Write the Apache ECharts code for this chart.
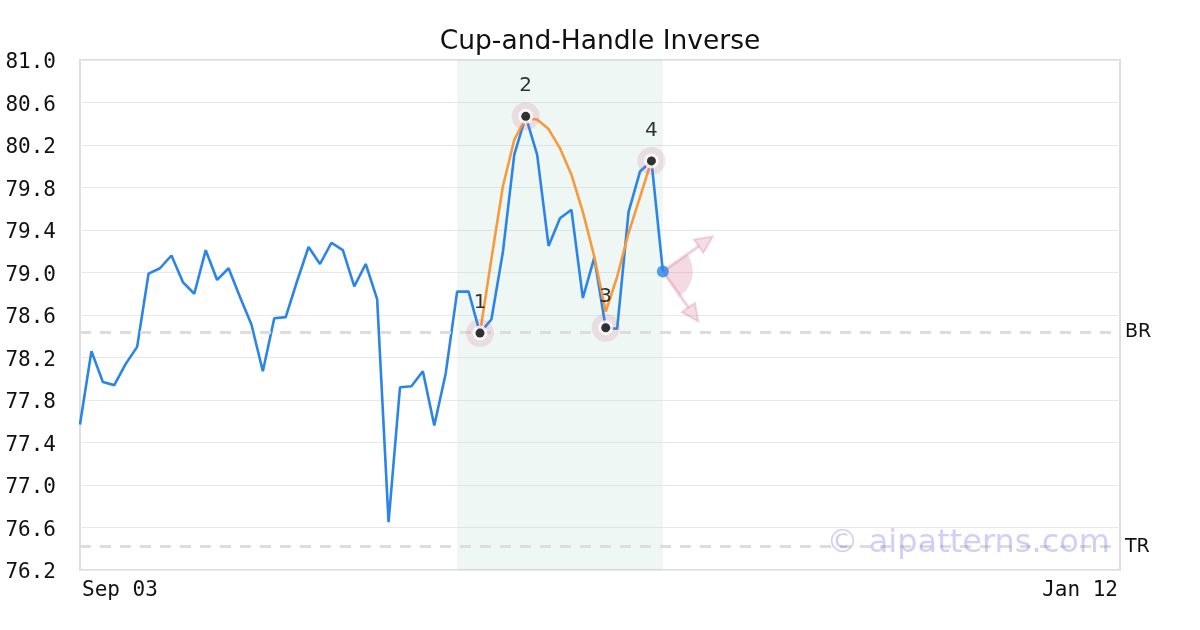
<!DOCTYPE html>
<html>
<head>
<meta charset="utf-8">
<script src="https://cdn.jsdelivr.net/npm/echarts@6/dist/echarts.min.js"></script>
<style>html,body{margin:0;padding:0;background:#fff}#chart{width:1200px;height:630px}</style>
</head>
<body>
<div id="chart"></div>
<script>
// ---- data ----
const dates = ['Sep 03','Sep 07','Sep 08','Sep 09','Sep 10','Sep 13','Sep 14','Sep 15','Sep 16','Sep 17',
  'Sep 20','Sep 21','Sep 22','Sep 23','Sep 24','Sep 27','Sep 28','Sep 29','Sep 30','Oct 01',
  'Oct 04','Oct 05','Oct 06','Oct 07','Oct 08','Oct 11','Oct 12','Oct 13','Oct 14','Oct 15',
  'Oct 18','Oct 19','Oct 20','Oct 21','Oct 22','Oct 25','Oct 26','Oct 27','Oct 28','Oct 29',
  'Nov 01','Nov 02','Nov 03','Nov 04','Nov 05','Nov 08','Nov 09','Nov 10','Nov 11','Nov 12',
  'Nov 15','Nov 16','Nov 17','Nov 18','Nov 19','Nov 22','Nov 23','Nov 24','Nov 26','Nov 29',
  'Nov 30','Dec 01','Dec 02','Dec 03','Dec 06','Dec 07','Dec 08','Dec 09','Dec 10','Dec 13',
  'Dec 14','Dec 15','Dec 16','Dec 17','Dec 20','Dec 21','Dec 22','Dec 23','Dec 24','Dec 27',
  'Dec 28','Dec 29','Dec 30','Dec 31','Jan 03','Jan 04','Jan 05','Jan 06','Jan 07','Jan 10',
  'Jan 11','Jan 12'];

const priceValues = [77.57,78.26,77.97,77.94,78.14,78.30,78.99,79.04,79.16,78.91,
  78.80,79.21,78.93,79.04,78.77,78.51,78.07,78.57,78.58,78.92,
  79.24,79.08,79.28,79.21,78.87,79.08,78.75,76.65,77.92,77.93,
  78.07,77.56,78.05,78.82,78.82,78.43,78.56,79.19,80.11,80.47,
  80.11,79.25,79.51,79.59,78.76,79.14,78.48,78.47,79.57,79.95,
  80.05,79.01];

const cupStart = 35;
const cupValues = [78.43,79.13,79.81,80.25,80.45,80.44,80.35,80.17,79.92,79.57,
  79.15,78.63,78.96,79.37,79.71,80.05];

const patternIdx = [35,39,46,50];
const patternVal = [78.43,80.47,78.48,80.05];
const patternLabels = ['1','2','3','4'];

const zoneRange = [33,51];
const levelValues = [78.44,76.42];
const levelNames = ['BR','TR'];

const wedgeOrigin = [51,79.01];
const arrowUp = [55.36,79.34];
const arrowDown = [54.1,78.54];

const yTicks = {min:76.2,max:81.0,step:0.4};
const titleText = 'Cup-and-Handle Inverse';
const watermark = '\u00a9 aipatterns.com';

// ---- chart ----
const chart = echarts.init(document.getElementById('chart'), null, {renderer:'canvas'});
const mono = 'DejaVu Sans Mono';
const sans = 'DejaVu Sans';
const pink = 'rgba(215,120,150,';

const option = {
  animation:false,
  title:{text:titleText,left:'center',top:24,
    textStyle:{fontFamily:sans,fontSize:26.5,fontWeight:'normal',color:'#111'}},
  grid:{left:80,right:80,top:60,bottom:60,show:true,borderColor:'#dedede',borderWidth:2,backgroundColor:'transparent'},
  xAxis:{type:'value',min:0,max:dates.length-1,interval:dates.length-1,
    axisLine:{show:false},axisTick:{show:false},splitLine:{show:false},
    axisLabel:{fontFamily:mono,fontSize:21,color:'#111',margin:8,
      alignMinLabel:'left',alignMaxLabel:'right',padding:[2,2,0,2],
      formatter:v=>dates[Math.round(v)]||''}},
  yAxis:{type:'value',min:yTicks.min,max:yTicks.max,interval:yTicks.step,
    axisLine:{show:false},axisTick:{show:false},
    splitLine:{lineStyle:{color:'#e8e8e8',width:1}},
    axisLabel:{fontFamily:mono,fontSize:21,color:'#111',margin:24,verticalAlign:'top',lineHeight:6,formatter:v=>v.toFixed(1)}},
  graphic:[{type:'text',right:90,top:528,z:100,
    style:{text:watermark,fontFamily:sans,fontSize:32,fill:'rgba(110,110,235,0.33)'}}],
  series:[
    {type:'line',name:'price',data:priceValues.map((v,i)=>[i,v]),showSymbol:false,
     lineStyle:{color:'#2b84e8',width:2.6},z:2,
     markArea:{silent:true,itemStyle:{color:'rgba(170,215,195,0.2)'},
       data:[[{xAxis:zoneRange[0]},{xAxis:zoneRange[1]}]]},
     markLine:{silent:true,symbol:['none','none'],
       lineStyle:{color:'#dddddd',type:[11,9],width:3},
       label:{show:true,position:'end',distance:5,fontFamily:sans,fontSize:19,color:'#111',padding:[3,0,0,0],formatter:p=>p.name},
       data:levelValues.map((v,i)=>({yAxis:v,name:levelNames[i]}))}},
    {type:'line',name:'cup',data:cupValues.map((v,i)=>[cupStart+i,v]),showSymbol:false,
     lineStyle:{color:'#f89a3c',width:2.6},z:3},
    {type:'custom',silent:true,z:4,
     data:[[wedgeOrigin[0],wedgeOrigin[1],arrowUp[0],arrowUp[1],arrowDown[0],arrowDown[1]]],
     renderItem:function(params,api){
       const c=api.coord([api.value(0),api.value(1)]);
       const a=api.coord([api.value(2),api.value(3)]);
       const b=api.coord([api.value(4),api.value(5)]);
       const angA=Math.atan2(a[1]-c[1],a[0]-c[0]);
       const angB=Math.atan2(b[1]-c[1],b[0]-c[0]);
       function arrow(p,ang){
         const L=17,W=8;
         const bx=p[0]-L*Math.cos(ang),by=p[1]-L*Math.sin(ang);
         return [
           {type:'line',shape:{x1:c[0],y1:c[1],x2:bx,y2:by},style:{stroke:pink+'0.35)',lineWidth:3}},
           {type:'polygon',shape:{points:[[p[0],p[1]],[bx+W*Math.sin(ang),by-W*Math.cos(ang)],[bx-W*Math.sin(ang),by+W*Math.cos(ang)]]},
            style:{fill:pink+'0.25)',stroke:pink+'0.3)',lineWidth:2}}
         ];
       }
       return {type:'group',children:[
         {type:'sector',shape:{cx:c[0],cy:c[1],r0:0,r:30,startAngle:angA,endAngle:angB,clockwise:true},
          style:{fill:pink+'0.27)'}}
       ].concat(arrow(a,angA)).concat(arrow(b,angB))};
     }},
    {type:'scatter',silent:true,z:5,data:[[priceValues.length-1,priceValues[priceValues.length-1]]],
     symbolSize:12,itemStyle:{color:'#2b84e8'}},
    {type:'scatter',silent:true,z:6,data:patternIdx.map((x,i)=>[x,patternVal[i]]),
     symbolSize:28,itemStyle:{color:'rgba(205,100,135,0.22)'}},
    {type:'scatter',silent:true,z:7,data:patternIdx.map((x,i)=>[x,patternVal[i]]),
     symbolSize:15,itemStyle:{color:'#ffffff'}},
    {type:'scatter',silent:true,z:8,data:patternIdx.map((x,i)=>[x,patternVal[i]]),
     symbolSize:9,itemStyle:{color:'#000000'},
     label:{show:true,position:'top',distance:16,fontFamily:sans,fontSize:20,color:'#000',
       formatter:p=>patternLabels[p.dataIndex]}}
  ]
};
chart.setOption(option);
</script>
</body>
</html>
